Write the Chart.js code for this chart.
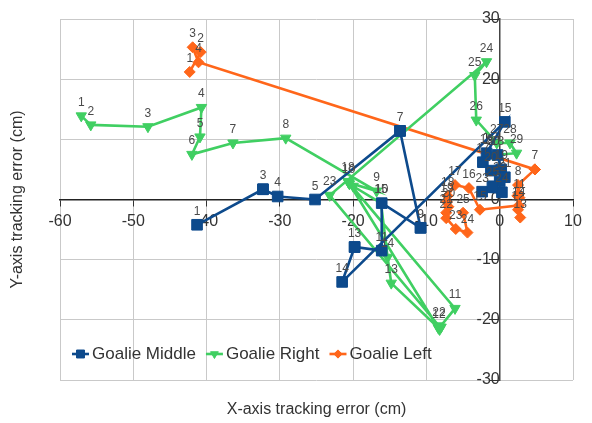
<!DOCTYPE html>
<html>
<head>
<meta charset="utf-8">
<script src="https://cdn.jsdelivr.net/npm/chart.js@4.4.1/dist/chart.umd.min.js"></script>
<style>
  html, body { margin: 0; padding: 0; background: #ffffff; }
  #wrap { width: 592px; height: 423px; }
</style>
</head>
<body>
<div id="wrap"><canvas id="chart" width="592" height="423"></canvas></div>
<script>
// Axis ticks (cm)
const xTicks = [-60, -50, -40, -30, -20, -10, 0, 10];
const yTicks = [-30, -20, -10, 0, 10, 20, 30];

const seriesNames = ['Goalie Middle', 'Goalie Right', 'Goalie Left'];
const xTitle = 'X-axis tracking error (cm)';
const yTitle = 'Y-axis tracking error (cm)';

// Goalie Middle: tracking error per trial (x, y in cm)
const middleX = [-41.3, -32.3, -32.3, -30.3, -25.2, -13.6, -13.6, -10.8, -10.8, -16.1,
                 -16.1, -19.8, -19.8, -21.5, 0.7, -1.8, -2.3, -0.3, 0.2, -1.2,
                 0.7, 0.0, -2.4, 0.3, -1.0];
const middleY = [-4.2, 1.7, 1.7, 0.5, 0.0, 11.4, 11.4, -4.7, -4.7, -0.6,
                 -8.5, -7.9, -7.9, -13.7, 12.9, 7.7, 6.2, 7.4, 5.0, 4.8,
                 3.7, 3.0, 1.3, 1.2, 2.2];

// Goalie Right
const rightX = [-57.1, -55.8, -48.0, -40.7, -40.9, -42.0, -36.4, -29.2, -16.8, -20.6,
                -6.1, -8.3, -14.8, -15.3, -16.2, -20.0, -20.5, -20.7, -8.4, -8.2,
                -8.0, -8.3, -23.2, -1.8, -3.4, -3.2, -0.4, 1.4, 2.3, -0.9];
const rightY = [13.9, 12.4, 12.1, 15.3, 10.4, 7.5, 9.4, 10.2, 1.4, 2.8,
                -18.1, -21.4, -13.9, -9.6, -0.6, 2.2, 2.6, 3.0, -21.3, -21.6,
                -21.2, -21.0, 0.7, 22.9, 20.6, 13.2, 9.4, 9.4, 7.7, 7.4];

// Goalie Left
const leftX = [-42.3, -40.8, -41.9, -41.1, 4.8, 4.8, 4.8, 2.5, 2.6, 2.4,
               2.7, 2.5, 2.8, 2.6, -2.7, -4.2, -6.1, -7.1, -7.2, -7.0,
               -7.3, -7.3, -6.0, -4.4, -5.0];
const leftY = [21.2, 24.5, 25.3, 22.8, 5.0, 5.0, 5.0, 2.4, 0.9, 0.6,
               0.3, -1.7, -3.0, -1.0, -1.7, 1.9, 2.4, 0.6, -0.4, -1.2,
               -2.2, -3.1, -4.9, -5.5, -2.2];

const seriesColors = ['#0d4a8c', '#40cf62', '#ff661a'];

function toPoints(xs, ys) {
  return xs.map((x, i) => ({ x: x, y: ys[i] }));
}

const FONT = '"Liberation Sans", Arial, sans-serif';

const styles = [
  { pointStyle: 'rect', pointRadius: 7.5, rotation: 0 },
  { pointStyle: 'triangle', pointRadius: 6, rotation: 180 },
  { pointStyle: 'rectRot', pointRadius: 5.5, rotation: 0 }
];

const datasets = [
  toPoints(middleX, middleY),
  toPoints(rightX, rightY),
  toPoints(leftX, leftY)
].map((pts, k) => ({
  label: seriesNames[k],
  data: pts,
  showLine: true,
  borderColor: seriesColors[k],
  backgroundColor: seriesColors[k],
  borderWidth: 2.6,
  pointStyle: styles[k].pointStyle,
  pointRadius: styles[k].pointRadius,
  pointRotation: styles[k].rotation,
  pointBorderWidth: 1,
  pointBorderColor: seriesColors[k],
  pointBackgroundColor: seriesColors[k],
  tension: 0
}));

// Numbers each point with its trial index; when the next trial lands on
// (almost) the same spot, only the later number is written.
const pointNumbers = {
  id: 'pointNumbers',
  afterDatasetsDraw(chart) {
    const ctx = chart.ctx;
    ctx.save();
    ctx.font = '12px ' + FONT;
    ctx.fillStyle = '#4a4a4a';
    ctx.textAlign = 'center';
    ctx.textBaseline = 'alphabetic';
    chart.data.datasets.forEach((ds, di) => {
      const meta = chart.getDatasetMeta(di);
      meta.data.forEach((el, i) => {
        const cur = ds.data[i];
        const nxt = ds.data[i + 1];
        if (nxt && Math.hypot(nxt.x - cur.x, nxt.y - cur.y) < 0.8) return;
        ctx.fillText(String(i + 1), el.x, el.y - 10);
      });
    });
    ctx.restore();
  }
};

// Axis titles and the in-plot legend
const decorations = {
  id: 'decorations',
  afterDraw(chart) {
    const ctx = chart.ctx;
    const a = chart.chartArea;
    ctx.save();
    ctx.fillStyle = '#333333';
    ctx.font = '16px ' + FONT;
    ctx.textAlign = 'center';
    ctx.textBaseline = 'middle';
    ctx.fillText(xTitle, (a.left + a.right) / 2, 410);
    ctx.translate(18, (a.top + a.bottom) / 2);
    ctx.rotate(-Math.PI / 2);
    ctx.fillText(yTitle, 0, 0);
    ctx.restore();

    // legend row
    ctx.save();
    ctx.font = '17px ' + FONT;
    ctx.textBaseline = 'middle';
    ctx.textAlign = 'left';
    const ly = 354;
    let lx = 72;
    chart.data.datasets.forEach((ds, k) => {
      ctx.strokeStyle = seriesColors[k];
      ctx.lineWidth = 2.6;
      ctx.beginPath();
      ctx.moveTo(lx, ly);
      ctx.lineTo(lx + 17, ly);
      ctx.stroke();
      ctx.fillStyle = seriesColors[k];
      ctx.strokeStyle = seriesColors[k];
      ctx.lineWidth = 1;
      Chart.helpers.drawPoint(ctx, {
        pointStyle: styles[k].pointStyle,
        radius: styles[k].pointRadius * 0.75,
        rotation: styles[k].rotation,
        borderWidth: 1
      }, lx + 8.5, ly);
      ctx.fillStyle = '#333333';
      ctx.fillText(ds.label, lx + 20, ly);
      lx += 20 + ctx.measureText(ds.label).width + 10;
    });
    ctx.restore();
  }
};

new Chart(document.getElementById('chart'), {
  type: 'scatter',
  data: { datasets: datasets },
  options: {
    responsive: false,
    animation: false,
    devicePixelRatio: 1,
    layout: { padding: { left: 60, right: 19, top: 19, bottom: 43 } },
    plugins: { legend: { display: false }, tooltip: { enabled: false } },
    scales: {
      x: {
        type: 'linear',
        position: { y: 0 },
        min: xTicks[0],
        max: xTicks[xTicks.length - 1],
        afterBuildTicks: (s) => { s.ticks = xTicks.map(v => ({ value: v })); },
        grid: { color: '#c9c9c9', lineWidth: 1, tickLength: 6, tickColor: '#333333' },
        border: { color: '#222222', width: 1.5 },
        ticks: { color: '#333333', font: { family: FONT, size: 16 }, padding: 6, maxRotation: 0 }
      },
      y: {
        type: 'linear',
        position: { x: 0 },
        min: yTicks[0],
        max: yTicks[yTicks.length - 1],
        afterBuildTicks: (s) => { s.ticks = yTicks.map(v => ({ value: v })); },
        grid: { color: '#c9c9c9', lineWidth: 1, tickLength: 10, tickColor: '#333333' },
        border: { color: '#444444', width: 1.5 },
        ticks: { color: '#333333', font: { family: FONT, size: 16 }, padding: 2 }
      }
    }
  },
  plugins: [pointNumbers, decorations]
});
</script>
</body>
</html>
